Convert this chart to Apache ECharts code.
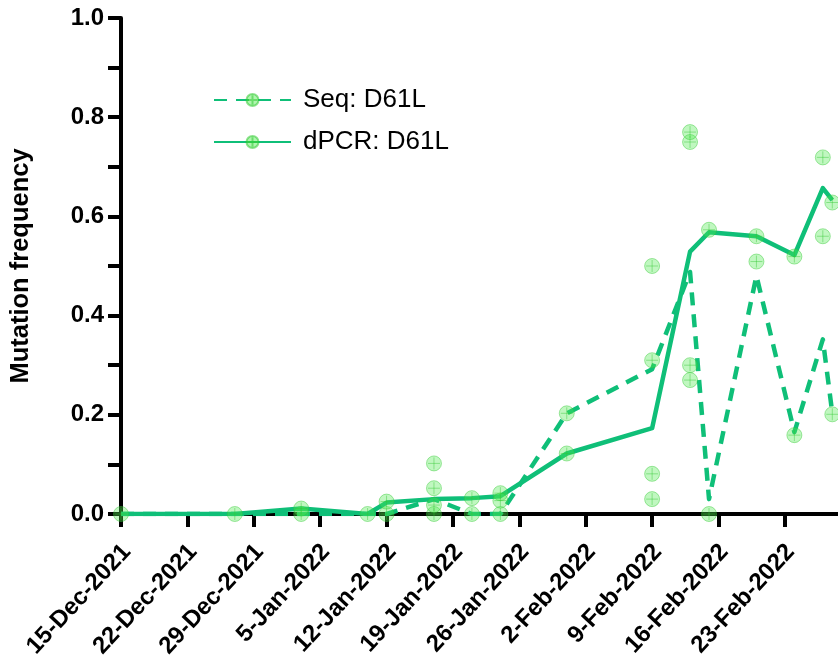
<!DOCTYPE html>
<html>
<head>
<meta charset="utf-8">
<script src="https://cdn.jsdelivr.net/npm/echarts@6/dist/echarts.min.js"></script>
<style>
  html, body { margin: 0; padding: 0; background: #fff; }
  #chart { width: 838px; height: 661px; }
</style>
</head>
<body>
<div id="chart"></div>
<script>
// Sampling dates and the mean mutation frequency of each method
const startDate = '2021-12-15';
const sampleDates = ['2021-12-15', '2021-12-27', '2022-01-03', '2022-01-10', '2022-01-12', '2022-01-17',
  '2022-01-21', '2022-01-24', '2022-01-31', '2022-02-09', '2022-02-13', '2022-02-15', '2022-02-20',
  '2022-02-24', '2022-02-27', '2022-02-28'];
const seqMean = [0, 0, 0, 0, 0, 0.03, 0, 0, 0.203, 0.292, 0.488, 0.03, 0.48, 0.165, 0.352, 0.203];
const dpcrMean = [0, 0, 0.011, 0, 0.023, 0.03, 0.032, 0.036, 0.122, 0.173, 0.529, 0.568, 0.56, 0.522, 0.657, 0.633];

// Individual replicate measurements
const seqReplicates = [['2022-01-03', 0], ['2022-01-12', 0], ['2022-01-17', 0.102], ['2022-01-17', 0],
  ['2022-01-21', 0], ['2022-01-24', 0], ['2022-01-31', 0.203], ['2022-02-09', 0.50], ['2022-02-09', 0.081],
  ['2022-02-13', 0.75], ['2022-02-13', 0.27], ['2022-02-15', 0], ['2022-02-20', 0.509],
  ['2022-02-24', 0.159], ['2022-02-28', 0.201]];
const dpcrReplicates = [['2021-12-15', 0], ['2021-12-27', 0], ['2022-01-03', 0.011], ['2022-01-10', 0],
  ['2022-01-12', 0.025], ['2022-01-17', 0.052], ['2022-01-17', 0.018], ['2022-01-21', 0.032],
  ['2022-01-24', 0.042], ['2022-01-24', 0.027], ['2022-01-31', 0.122], ['2022-02-09', 0.31],
  ['2022-02-09', 0.03], ['2022-02-13', 0.77], ['2022-02-13', 0.30], ['2022-02-15', 0.573],
  ['2022-02-20', 0.56], ['2022-02-24', 0.519], ['2022-02-27', 0.719], ['2022-02-27', 0.56],
  ['2022-02-28', 0.628]];

// Weekly tick labels on the date axis
const weekLabels = ['15-Dec-2021', '22-Dec-2021', '29-Dec-2021', '5-Jan-2022', '12-Jan-2022', '19-Jan-2022',
  '26-Jan-2022', '2-Feb-2022', '9-Feb-2022', '16-Feb-2022', '23-Feb-2022'];

const seriesNames = ['Seq: D61L', 'dPCR: D61L'];

const DAY_MS = 86400000;
const dayOf = d => Math.round((Date.parse(d) - Date.parse(startDate)) / DAY_MS);
const weekTicks = weekLabels.map((_, i) => i * 7);
const xMax = 75.6;
const labelShift = 0.6;

const FONT = "'Liberation Sans', Arial, Helvetica, sans-serif";
const LINE_GREEN = '#0fbf78';
const markerPath = 'path://M10,0A10,10,0,1,1,10,20A10,10,0,1,1,10,0ZM10,2L10,18M2,10L18,10';
const markerStyle = { color: 'rgba(80,232,80,0.45)', borderColor: 'rgba(50,200,50,0.55)', borderWidth: 1 };

const meanLine = (name, values, dash) => ({
  name: name,
  type: 'line',
  xAxisIndex: 0,
  data: sampleDates.map((d, i) => [dayOf(d), values[i]]),
  showSymbol: false,
  symbol: markerPath,
  symbolSize: 15,
  itemStyle: markerStyle,
  lineStyle: { color: LINE_GREEN, width: 4.5, type: dash ? [13, 9] : 'solid', cap: 'butt', join: 'round' },
  z: 3
});

const replicatePoints = (points) => ({
  type: 'scatter',
  xAxisIndex: 0,
  data: points.map(p => [dayOf(p[0]), p[1]]),
  symbol: markerPath,
  symbolSize: 15,
  itemStyle: markerStyle,
  z: 4
});

const chart = echarts.init(document.getElementById('chart'), null, { renderer: 'canvas' });
chart.setOption({
  animation: false,
  backgroundColor: '#fff',
  textStyle: { fontFamily: FONT },
  grid: { left: 119, right: 0, top: 18, bottom: 147, containLabel: false },
  legend: {
    orient: 'vertical',
    left: 208,
    top: 82,
    itemWidth: 77,
    itemHeight: 15,
    itemGap: 16,
    data: seriesNames,
    textStyle: { fontSize: 26, color: '#000', fontFamily: FONT, padding: [0, 0, 0, 7] }
  },
  xAxis: [{
    type: 'value',
    min: 0,
    max: xMax,
    position: 'bottom',
    axisLine: { show: true, onZero: false, lineStyle: { color: '#000', width: 4 } },
    axisTick: { show: true, customValues: weekTicks, length: 13, lineStyle: { color: '#000', width: 4 } },
    axisLabel: { show: false },
    splitLine: { show: false }
  }, {
    type: 'value',
    min: -labelShift,
    max: xMax - labelShift,
    position: 'bottom',
    axisLine: { show: false },
    axisTick: { show: false },
    splitLine: { show: false },
    axisLabel: {
      customValues: weekTicks,
      rotate: 47,
      margin: 34,
      fontSize: 24,
      fontWeight: 'bold',
      color: '#000',
      fontFamily: FONT,
      formatter: v => weekLabels[Math.round(v / 7)] || ''
    }
  }],
  yAxis: {
    type: 'value',
    min: 0,
    max: 1,
    interval: 0.1,
    name: 'Mutation frequency',
    nameLocation: 'middle',
    nameGap: 87,
    nameTextStyle: { fontSize: 25.5, fontWeight: 'bold', color: '#000', fontFamily: FONT },
    axisLine: { show: true, lineStyle: { color: '#000', width: 4 } },
    axisTick: { show: true, length: 13, lineStyle: { color: '#000', width: 4 } },
    axisLabel: {
      margin: 17,
      fontSize: 24,
      fontWeight: 'bold',
      color: '#000',
      fontFamily: FONT,
      formatter: v => (Math.round(v * 10) % 2 === 0 ? v.toFixed(1) : '')
    },
    splitLine: { show: false }
  },
  series: [
    meanLine(seriesNames[0], seqMean, true),
    meanLine(seriesNames[1], dpcrMean, false),
    replicatePoints(seqReplicates),
    replicatePoints(dpcrReplicates)
  ]
});
</script>
</body>
</html>
